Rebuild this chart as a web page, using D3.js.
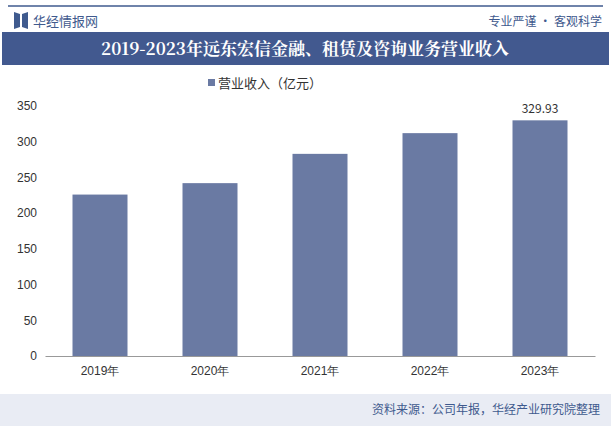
<!DOCTYPE html><html><head><meta charset="utf-8"><script src="https://cdn.jsdelivr.net/npm/d3@7"></script>
<style>body{margin:0;background:#fff}svg{display:block;font-family:"Noto Sans CJK SC","Noto Sans",sans-serif}</style></head><body><svg id="c" width="611" height="426"></svg><script>
const categories=["2019年","2020年","2021年","2022年","2023年"];
const values=[226,242,283,312,329.93];
const yTicks=[0,50,100,150,200,250,300,350];
const svg=d3.select("#c");
svg.append("rect").attr("x",0).attr("y",0).attr("width",611).attr("height",426).attr("fill","#fff");
svg.append("line").attr("x1",8).attr("x2",603).attr("y1",6).attr("y2",6).attr("stroke","#3f5a8e").attr("stroke-width",1.5);
svg.append("path").attr("d","M14,12 L20,14 L20,27 L14,29Z M22,14 L28,12 L28,29 L22,27Z").attr("fill","#3f5a8e");
svg.append("text").attr("x",33).attr("y",26).text("华经情报网").attr("font-size",13).attr("fill","#3f5a8e");
svg.append("text").attr("x",602).attr("y",26).attr("text-anchor","end").text("专业严谨 • 客观科学").attr("font-size",12).attr("fill","#3f5a8e");
svg.append("rect").attr("x",2).attr("y",32).attr("width",607).attr("height",33).attr("fill","#42598f");
svg.append("text").attr("x",305).attr("y",55).attr("text-anchor","middle").text("2019-2023年远东宏信金融、租赁及咨询业务营业收入").attr("font-size",17).attr("font-weight","bold").attr("fill","#fff").attr("font-family","'Noto Serif CJK SC','Noto Sans CJK SC',serif");
svg.append("rect").attr("x",208).attr("y",79).attr("width",7).attr("height",7).attr("fill","#6a7aa3");
svg.append("text").attr("x",218).attr("y",88).text("营业收入（亿元）").attr("font-size",13).attr("fill","#333");
const x=d3.scaleBand().domain(categories).range([45,595]).paddingInner(0.5).paddingOuter(0.25);
const y=d3.scaleLinear().domain([0,350]).range([356,106]);
const ya=svg.append("g").attr("transform","translate(45,0)").call(d3.axisLeft(y).tickValues(yTicks).tickSize(0).tickPadding(8));
ya.select(".domain").remove();
ya.selectAll("text").attr("font-size",12).attr("fill","#333");
const xa=svg.append("g").attr("transform","translate(0,356)").call(d3.axisBottom(x).tickSize(0).tickPadding(10));
xa.select(".domain").attr("stroke","#999");
xa.selectAll("text").attr("font-size",12).attr("fill","#333");
svg.selectAll(".bar").data(values).join("rect").attr("x",(d,i)=>x(categories[i])).attr("width",x.bandwidth()).attr("y",d=>y(d)).attr("height",d=>356-y(d)).attr("fill","#6a7aa3");
svg.append("text").attr("x",x(categories[4])+x.bandwidth()/2).attr("y",y(values[4])-7).attr("text-anchor","middle").text("329.93").attr("font-size",12).attr("fill","#333");
svg.append("rect").attr("x",0).attr("y",394).attr("width",611).attr("height",32).attr("fill","#e9ecf4");
svg.append("text").attr("x",600).attr("y",414).attr("text-anchor","end").text("资料来源：公司年报，华经产业研究院整理").attr("font-size",12).attr("fill","#3f5a8e");
</script></body></html>
